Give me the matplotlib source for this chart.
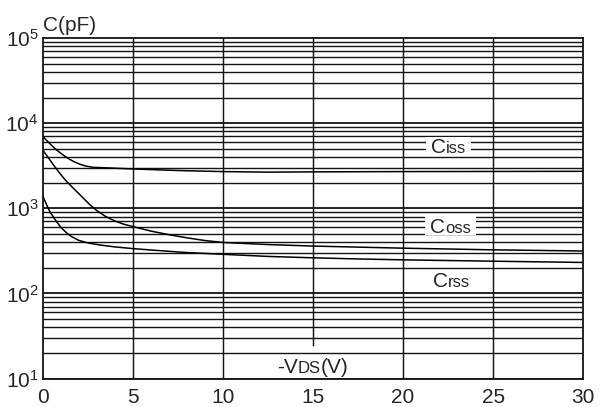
import numpy as np
import matplotlib
matplotlib.use("Agg")
import matplotlib.pyplot as plt
from matplotlib.transforms import offset_copy, IdentityTransform
from matplotlib.patches import Rectangle

plt.rcParams['font.family'] = ['Liberation Sans', 'DejaVu Sans']
plt.rcParams['mathtext.fontset'] = 'custom'
plt.rcParams['mathtext.rm'] = 'Liberation Sans'
plt.rcParams['mathtext.it'] = 'Liberation Sans:italic'

# ---- data ----
ciss_v = [0, 0.2, 0.4, 0.6, 0.8, 1.0, 1.33, 1.7, 2.07, 2.4, 2.8, 3.5, 5, 7.5,
          10, 12.5, 15, 20, 25, 30]
ciss_c = [7000, 6330, 5740, 5220, 4800, 4440, 3950, 3560, 3290, 3130, 3030, 2990,
          2900, 2780, 2700, 2660, 2680, 2700, 2710, 2720]
coss_v = [0, 0.25, 0.5, 0.78, 1.0, 1.3, 1.7, 2.1, 2.6, 3.0, 3.5, 4.0, 4.5, 5.35,
          6, 7, 8, 9, 10, 12.5, 15, 20, 25, 30]
coss_c = [4850, 4100, 3450, 2870, 2500, 2100, 1720, 1420, 1110, 940, 800, 710, 650,
          585, 540, 490, 450, 418, 397, 375, 360, 340, 325, 315]
crss_v = [0, 0.2, 0.4, 0.7, 1.0, 1.3, 1.6, 2.0, 2.5, 3.2, 4, 5, 6.5, 8, 10, 12.5,
          15, 17.5, 20, 25, 30]
crss_c = [1400, 1120, 910, 730, 600, 520, 465, 420, 392, 370, 352, 336, 318, 302,
          288, 272, 262, 254, 248, 239, 231]
x_ticks = [0, 5, 10, 15, 20, 25, 30]
y_decades = [1, 2, 3, 4, 5]
x_label_parts = [("-V", 15), ("DS", 12), ("(V)", 15)]

TXT = '#262626'
LINE = '#141414'

fig = plt.figure(figsize=(6.10, 4.07), dpi=100)
ax = fig.add_axes([0.070, 0.0700, 0.8862, 0.8364])
ax.set_yscale('log')
ax.set_xlim(0, 30)
ax.set_ylim(10, 1e5)

# grid
for d in y_decades[:-1]:
    for m in range(1, 10):
        val = m * 10 ** d
        ax.axhline(val, color=LINE, lw=1.3 if m == 1 else 1.0, zorder=1)
for xv in x_ticks[1:-1]:
    if xv == 15:
        ax.axvline(xv, ymin=0.098, color=LINE, lw=1.05, zorder=1)
    else:
        ax.axvline(xv, color=LINE, lw=1.05, zorder=1)

# curves
for v, c in [(ciss_v, ciss_c), (coss_v, coss_c), (crss_v, crss_c)]:
    ax.plot(v, c, color='black', lw=1.1, zorder=3)

for s in ax.spines.values():
    s.set_color(LINE)
    s.set_linewidth(1.3)
    s.set_zorder(6)

ax.set_xticks(x_ticks)
ax.set_xticklabels([str(t) for t in x_ticks])
ax.set_yticks([10 ** d for d in y_decades])
ax.set_yticklabels([r'$\mathregular{10^{%d}}$' % d for d in y_decades])
ax.yaxis.set_minor_locator(matplotlib.ticker.NullLocator())
ax.tick_params(axis='both', length=0, labelsize=15, colors=TXT)
ax.tick_params(axis='x', pad=6.8)
ax.tick_params(axis='y', pad=3)

renderer = fig.canvas.get_renderer()


def composite(x, y, parts, box=False):
    texts = []
    dx = 0.0
    for s, fs in parts:
        tr = offset_copy(ax.transData, fig=fig, x=dx, y=0, units='dots')
        t = ax.text(x, y, s, fontsize=fs, color=TXT, ha='left', va='baseline',
                    transform=tr, zorder=5, clip_on=False)
        ext = t.get_window_extent(renderer=renderer)
        dx += ext.width
        texts.append(t)
    if box:
        bx, by = ax.transData.transform((x, y))
        cap = 0.716 * parts[0][1] * fig.dpi / 72.0
        rect = Rectangle((bx - 5, by - 2), dx + 10, cap + 3.5,
                         transform=IdentityTransform(), facecolor='white',
                         edgecolor='none', zorder=4)
        ax.add_patch(rect)
    return texts


composite(21.55, 4430, [("C", 15), ("iss", 12)], box=True)
composite(21.5, 517, [("C", 15), ("oss", 12)], box=True)
composite(21.65, 120, [("C", 15), ("rss", 12)])
composite(13.02, 11.5, x_label_parts)
ax.text(0, 10 ** 5.089, "C(pF)", fontsize=15, color=TXT, ha='left',
        va='baseline', clip_on=False)

fig.savefig("out.png", dpi=100)
